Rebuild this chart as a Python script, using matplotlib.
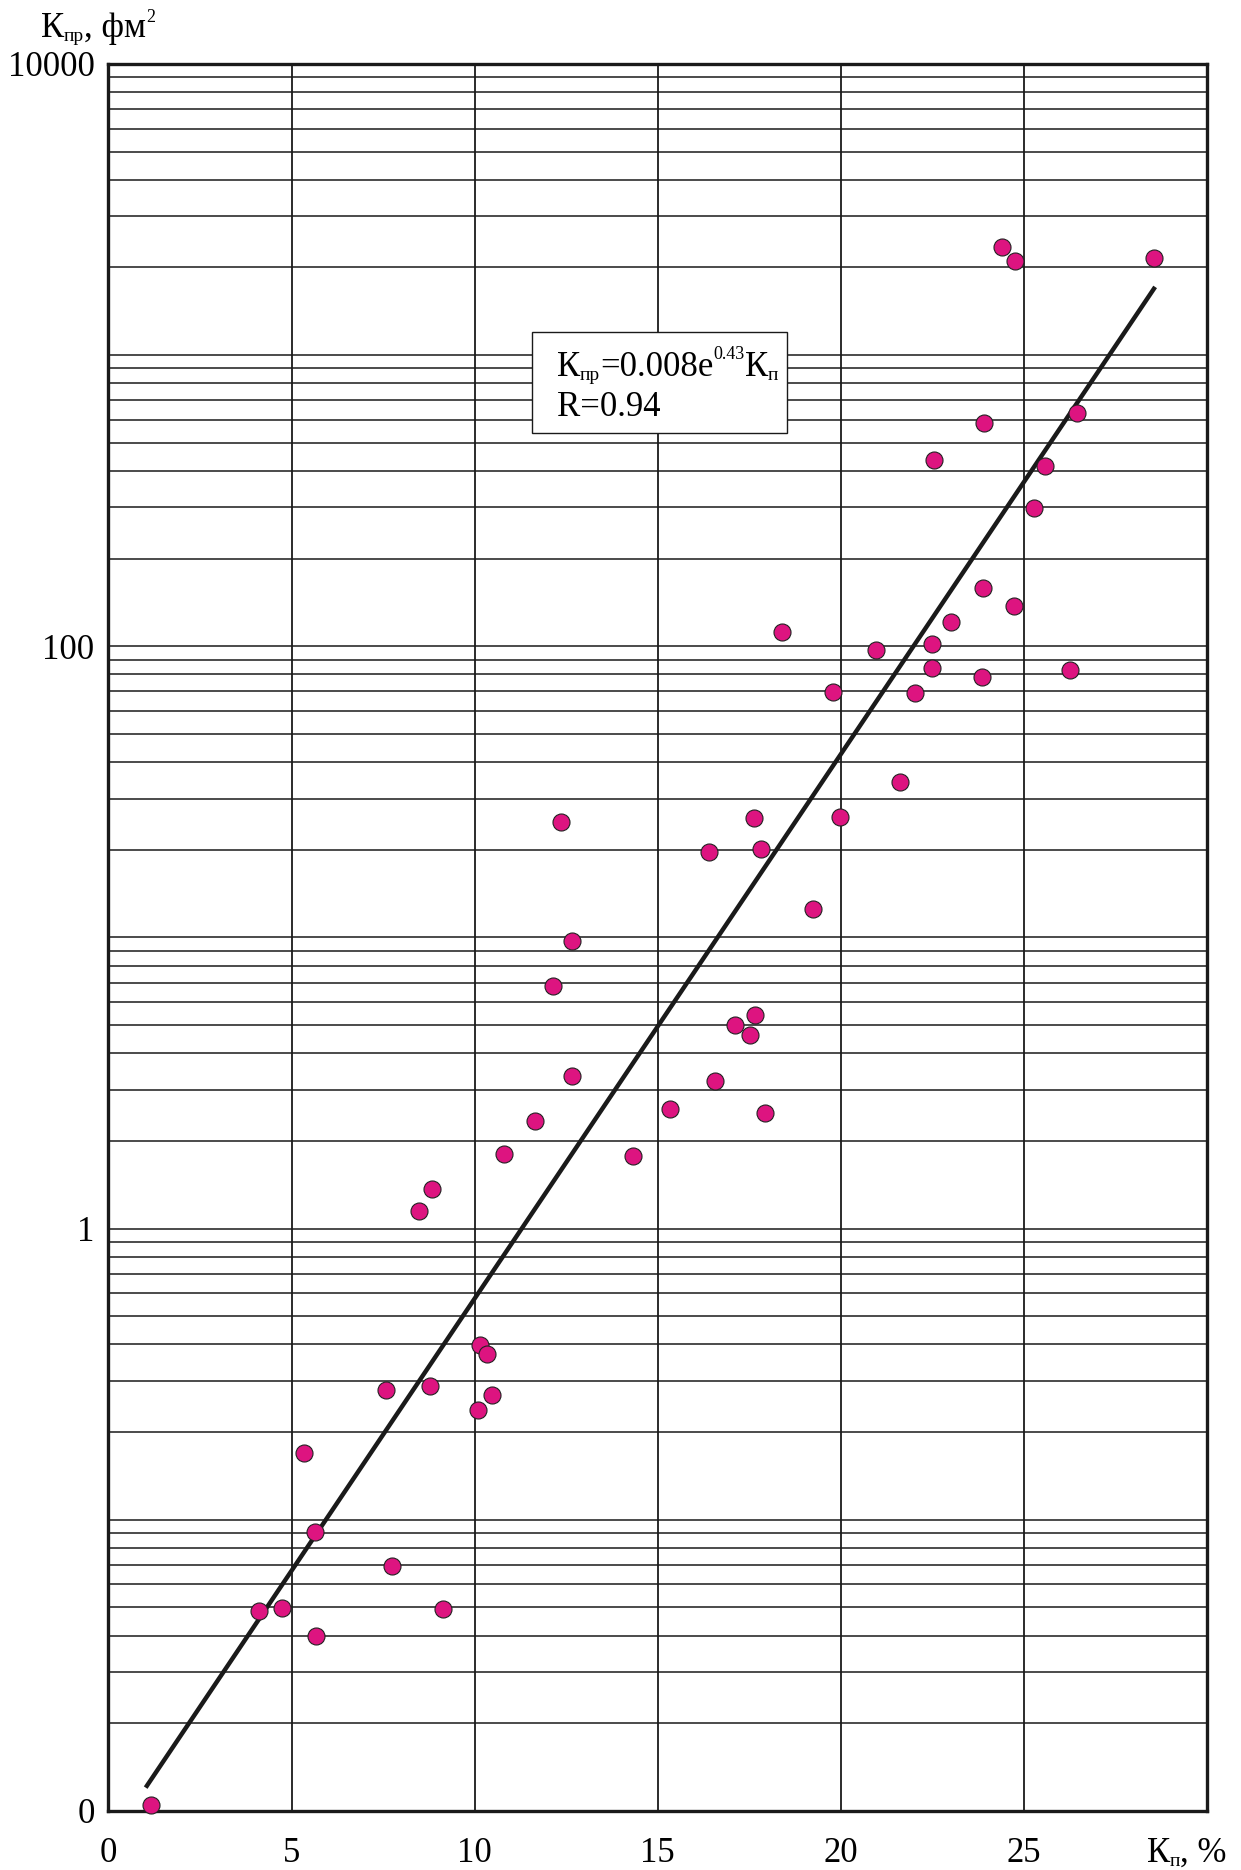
import matplotlib
matplotlib.use("Agg")
import matplotlib.pyplot as plt
from matplotlib.patches import Rectangle
from matplotlib.ticker import FixedLocator, NullFormatter

plt.rcParams["font.family"] = ["Liberation Serif", "DejaVu Serif"]

# porosity Kp, % and permeability Kpr, fm^2
kp = [1.16, 4.10, 4.74, 5.35, 5.64, 5.67, 7.58, 7.74, 8.47, 8.78,
      8.83, 9.14, 10.09, 10.15, 10.35, 10.48, 10.80, 11.65, 12.14, 12.37,
      12.66, 12.66, 14.32, 15.33, 16.40, 16.56, 17.12, 17.51, 17.64, 17.67,
      17.83, 17.93, 18.39, 19.23, 19.79, 19.98, 20.96, 21.61, 22.03, 22.49,
      22.49, 22.55, 23.01, 23.85, 23.89, 23.92, 24.41, 24.73, 24.76, 25.28,
      25.58, 26.26, 26.46, 28.54]
kpr = [0.0105, 0.0487, 0.0498, 0.169, 0.0908, 0.0398, 0.279, 0.0693, 1.15, 0.288,
       1.37, 0.0492, 0.239, 0.399, 0.372, 0.269, 1.81, 2.34, 6.79, 25.0,
       9.72, 3.35, 1.78, 2.57, 19.7, 3.22, 5.02, 4.61, 25.7, 5.42,
       20.1, 2.50, 112, 12.5, 69.8, 25.9, 97.2, 34.1, 69.2, 102,
       84.4, 436, 121, 78.2, 159, 584, 2360, 138, 2110, 299,
       416, 82.8, 635, 2150]

# trend line end points
fit_x = [1.05, 28.55]
fit_y = [0.0122, 1690]

x_ticks = [0, 5, 10, 15, 20, 25]
y_major = [0.01, 0.1, 1, 10, 100, 1000, 10000]
y_labels = ["0", "", "1", "", "100", "", "10000"]

W, H = 1241, 1870
fig = plt.figure(figsize=(W / 100, H / 100), dpi=100)
ax = fig.add_axes([0.0874, 0.0316, 0.8852, 0.9342])
renderer = fig.canvas.get_renderer()


def chain(x0, y0, runs):
    """Write text runs one after another; x0, y0 are pixels from the top-left,
    each run is (text, fontsize, raise_px)."""
    x = x0
    for s, size, dy in runs:
        t = fig.text(x / W, 1 - (y0 - dy) / H, s, fontsize=size,
                     ha="left", va="baseline", zorder=6)
        x += t.get_window_extent(renderer).width


ax.set_yscale("log")
ax.set_xlim(0, 30)
ax.set_ylim(0.01, 10000)

ax.set_xticks(x_ticks)
ax.set_xticklabels([str(t) for t in x_ticks])
ax.set_yticks(y_major)
ax.set_yticklabels(y_labels)
minors = [m * 10.0 ** e for e in range(-2, 4) for m in range(2, 10)]
ax.yaxis.set_minor_locator(FixedLocator(minors))
ax.yaxis.set_minor_formatter(NullFormatter())

ax.tick_params(axis="both", which="both", length=0, labelsize=25)
ax.tick_params(axis="x", pad=19)
ax.tick_params(axis="y", pad=10)

ax.grid(True, axis="y", which="both", color="#1a1a1a", linewidth=1.1)
ax.grid(True, axis="x", which="major", color="#1a1a1a", linewidth=1.3)
for sp in ax.spines.values():
    sp.set_linewidth(2.4)
    sp.set_color("#1a1a1a")

ax.plot(fit_x, fit_y, color="#1a1a1a", linewidth=3.2, zorder=3)
ax.scatter(kp, kpr, s=150, color="#DD1480", edgecolors="#222222",
           linewidths=0.8, zorder=4, clip_on=False)

# equation box
fig.patches.append(Rectangle((532 / W, 1 - 433 / H), 255 / W, 101 / H,
                             transform=fig.transFigure, facecolor="white",
                             edgecolor="#1a1a1a", linewidth=1.0, zorder=5))
chain(557, 376, [("К", 25, 0), ("пр", 14, -4), ("=0.008e", 25, 0),
                 ("0.43", 13, 17), ("К", 25, 0), ("п", 14, -4)])
chain(557, 416, [("R=0.94", 25, 0)])

# axis captions
chain(41, 37, [("К", 25, 0), ("пр", 14, -4), (", фм", 25, 0), ("2", 13, 15)])
chain(1147, 1862, [("К", 25, 0), ("п", 14, -4), (", %", 25, 0)])

fig.savefig("out.png", dpi=100, facecolor="white")
